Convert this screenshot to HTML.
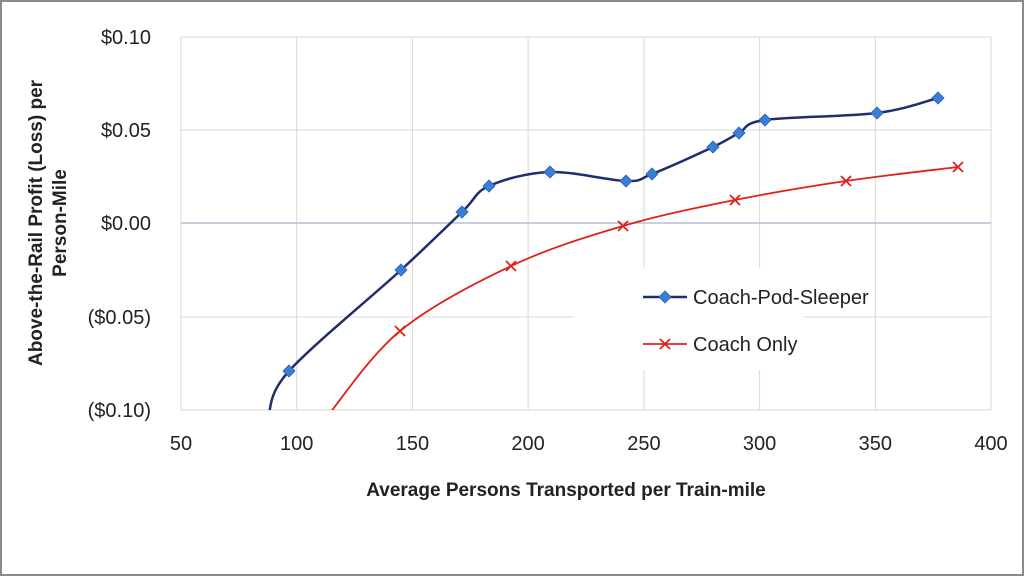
<!DOCTYPE html>
<html><head><style>
body{margin:0;width:1024px;height:576px;overflow:hidden;background:#fff;font-family:"Liberation Sans",sans-serif}
</style></head><body>
<svg id="s" width="1024" height="576" xmlns="http://www.w3.org/2000/svg" font-family="Liberation Sans, sans-serif">
<rect x="1" y="1" width="1022" height="574" fill="#fff" stroke="#8a8a8a" stroke-width="2"/>
<defs><clipPath id="c"><rect x="181" y="37" width="810" height="373"/></clipPath></defs>
<g stroke="#d9d9d9" stroke-width="1">
<line x1="181" y1="37" x2="181" y2="410"/><line x1="296.7" y1="37" x2="296.7" y2="410"/>
<line x1="412.4" y1="37" x2="412.4" y2="410"/><line x1="528.1" y1="37" x2="528.1" y2="410"/>
<line x1="643.9" y1="37" x2="643.9" y2="410"/><line x1="759.6" y1="37" x2="759.6" y2="410"/>
<line x1="875.3" y1="37" x2="875.3" y2="410"/><line x1="991" y1="37" x2="991" y2="410"/>
<line x1="181" y1="37" x2="991" y2="37"/><line x1="181" y1="130" x2="991" y2="130"/>
<line x1="181" y1="317" x2="991" y2="317"/><line x1="181" y1="410" x2="991" y2="410"/>
</g>
<line x1="181" y1="223" x2="991" y2="223" stroke="#b4c0d0" stroke-width="1.5"/>
<g clip-path="url(#c)">
<path id="pb" fill="none" stroke="#1f2d6e" stroke-width="2.5"/>
<path id="pr" fill="none" stroke="#e0201b" stroke-width="1.8"/>
</g>
<g id="mk"></g>
<rect x="574" y="268" width="230" height="102" fill="#fff"/>
<line x1="643" y1="297" x2="687" y2="297" stroke="#1f2d6e" stroke-width="2.5"/>
<path d="M665 291 L671 297 L665 303 L659 297Z" fill="#3a7fd5" stroke="#2a5fb0" stroke-width="0.8"/>
<line x1="643" y1="344" x2="687" y2="344" stroke="#e0201b" stroke-width="1.8"/>
<path d="M660 339 L670 349 M670 339 L660 349" stroke="#e0201b" stroke-width="1.8"/>
<text x="693" y="304" font-size="20" fill="#222">Coach-Pod-Sleeper</text>
<text x="693" y="351" font-size="20" fill="#222">Coach Only</text>
<g font-size="20" fill="#222" text-anchor="end">
<text x="151" y="44">$0.10</text><text x="151" y="137">$0.05</text>
<text x="151" y="230">$0.00</text><text x="151" y="324">($0.05)</text>
<text x="151" y="417">($0.10)</text>
</g>
<g font-size="20" fill="#222" text-anchor="middle">
<text x="181" y="450">50</text><text x="296.7" y="450">100</text><text x="412.4" y="450">150</text>
<text x="528.1" y="450">200</text><text x="643.9" y="450">250</text><text x="759.6" y="450">300</text>
<text x="875.3" y="450">350</text><text x="991" y="450">400</text>
</g>
<text x="566" y="496" font-size="19" font-weight="bold" fill="#222" text-anchor="middle">Average Persons Transported per Train-mile</text>
<g transform="translate(0,223) rotate(-90)" font-size="19" font-weight="bold" fill="#222" text-anchor="middle">
<text x="0" y="42">Above-the-Rail Profit (Loss) per</text>
<text x="0" y="66">Person-Mile</text>
</g>
</svg>
<script>
function cr(p){let d="M"+p[0][0]+" "+p[0][1];for(let i=0;i<p.length-1;i++){const a=p[i-1]||p[i],b=p[i],c=p[i+1],e=p[i+2]||c;const t=6;d+=" C"+(b[0]+(c[0]-a[0])/t)+" "+(b[1]+(c[1]-a[1])/t)+" "+(c[0]-(e[0]-b[0])/t)+" "+(c[1]-(e[1]-b[1])/t)+" "+c[0]+" "+c[1];}return d;}
const B=[[268,418],[289,371],[401,270],[462,212],[489,186],[550,172],[626,181],[652,174],[713,147],[739,133],[765,120],[877,113],[938,98]];
const R=[[326,418],[400,331],[511,266],[623,226],[735,200],[846,181],[958,167]];
document.getElementById("pb").setAttribute("d",cr(B));
document.getElementById("pr").setAttribute("d",cr(R));
let m="";
B.slice(1).forEach(p=>{m+=`<path d="M${p[0]} ${p[1]-6} L${p[0]+6} ${p[1]} L${p[0]} ${p[1]+6} L${p[0]-6} ${p[1]}Z" fill="#3a7fd5" stroke="#2a5fb0" stroke-width="0.8"/>`});
R.slice(1).forEach(p=>{m+=`<path d="M${p[0]-5} ${p[1]-5} L${p[0]+5} ${p[1]+5} M${p[0]+5} ${p[1]-5} L${p[0]-5} ${p[1]+5}" stroke="#e0201b" stroke-width="1.8"/>`});
document.getElementById("mk").innerHTML=m;
</script>
</body></html>
